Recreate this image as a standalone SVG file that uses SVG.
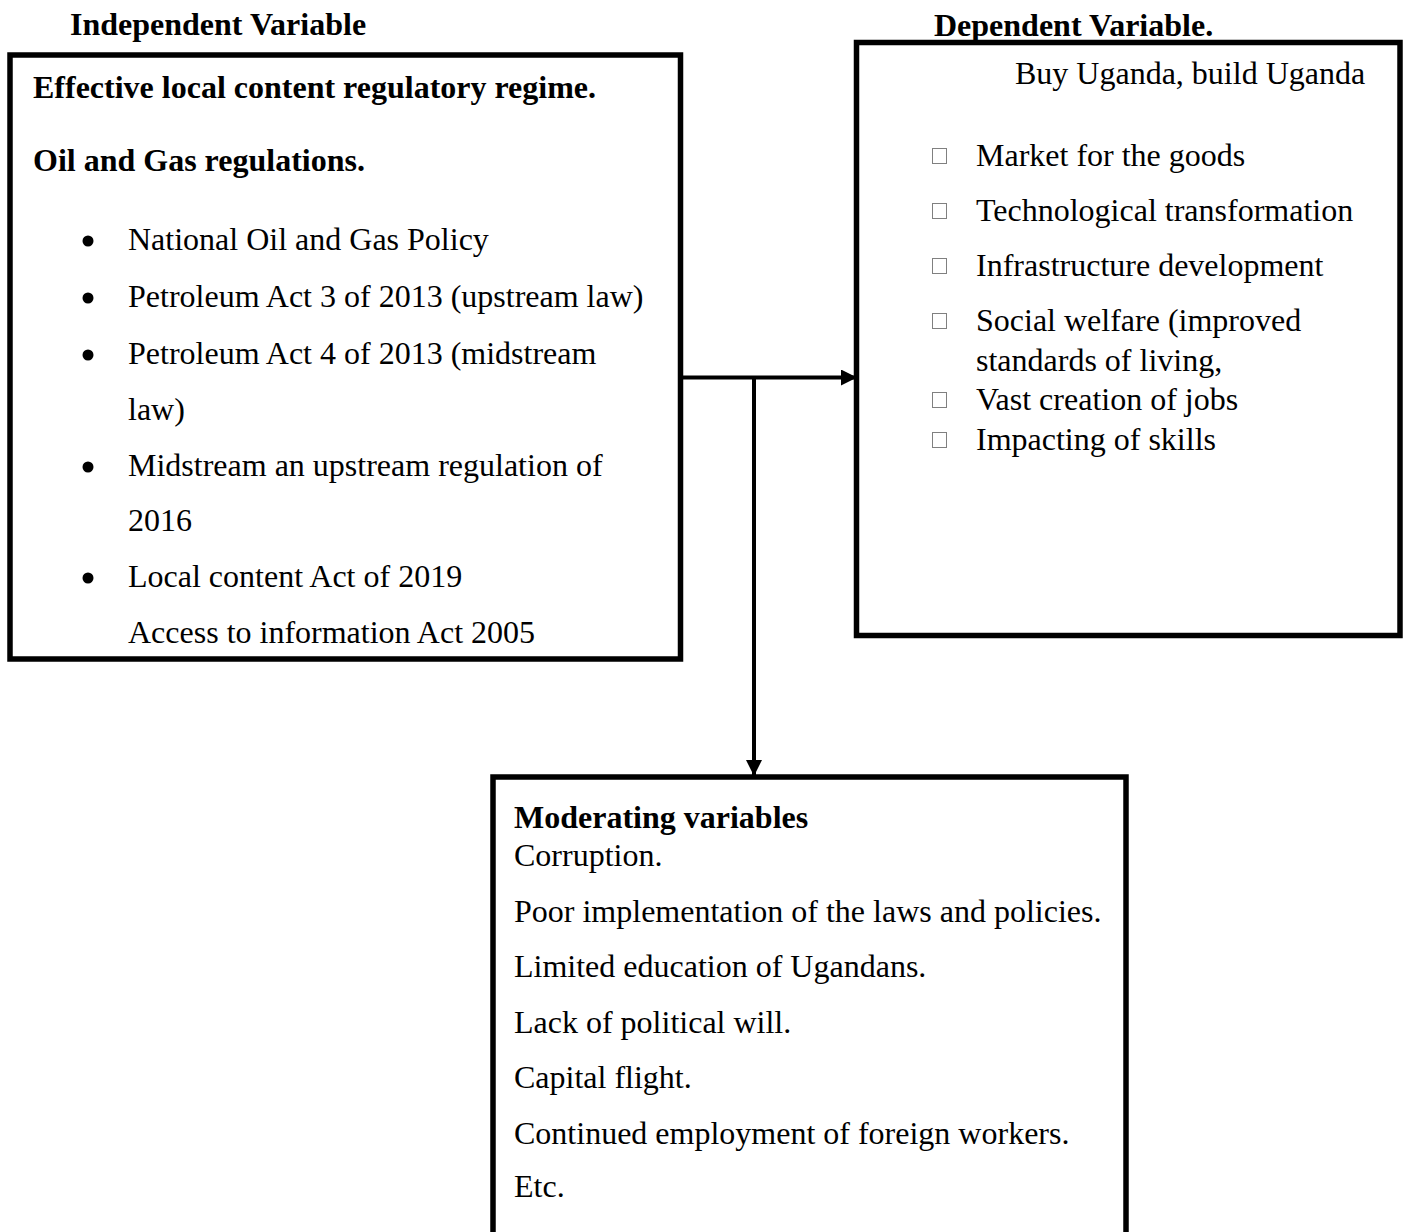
<svg xmlns="http://www.w3.org/2000/svg" width="1407" height="1232" viewBox="0 0 1407 1232">
<defs>
<style>
text{font-family:"Liberation Serif","Times New Roman",serif;font-size:32px;fill:#000}
.b{font-weight:bold}
.box{fill:#fff;stroke:#000;stroke-width:5.5}
.sq{fill:none;stroke:#808080;stroke-width:1}
.ln{stroke:#000;stroke-width:4;fill:none}
</style>
<marker id="ah" viewBox="0 0 10 10" refX="10" refY="5" markerWidth="4" markerHeight="4" orient="auto" markerUnits="strokeWidth">
<path d="M0,0 L10,5 L0,10 z" fill="#000"/>
</marker>
</defs>
<rect width="1407" height="1232" fill="#fff"/>
<text class="b" x="70" y="35">Independent Variable</text>
<text class="b" x="934" y="36">Dependent Variable.</text>
<g id="independent">
<rect class="box" x="10" y="55" width="670.5" height="604"/>
<text class="b" x="33" y="98">Effective local content regulatory regime.</text>
<text class="b" x="33" y="171">Oil and Gas regulations.</text>
<circle cx="88" cy="241" r="5.5"/>
<text x="128" y="250">National Oil and Gas Policy</text>
<circle cx="88" cy="298" r="5.5"/>
<text x="128" y="307">Petroleum Act 3 of 2013 (upstream law)</text>
<circle cx="88" cy="355" r="5.5"/>
<text x="128" y="364">Petroleum Act 4 of 2013 (midstream</text>
<text x="128" y="420">law)</text>
<circle cx="88" cy="467" r="5.5"/>
<text x="128" y="476">Midstream an upstream regulation of</text>
<text x="128" y="531">2016</text>
<circle cx="88" cy="578" r="5.5"/>
<text x="128" y="587">Local content Act of 2019</text>
<text x="128" y="643">Access to information Act 2005</text>
</g>
<g id="dependent">
<rect class="box" x="856.5" y="42.5" width="543.5" height="593"/>
<text x="1015" y="84">Buy Uganda, build Uganda</text>
<rect class="sq" x="932.5" y="148.5" width="14" height="15"/>
<text x="976" y="166">Market for the goods</text>
<rect class="sq" x="932.5" y="203.5" width="14" height="15"/>
<text x="976" y="221">Technological transformation</text>
<rect class="sq" x="932.5" y="258.5" width="14" height="15"/>
<text x="976" y="276">Infrastructure development</text>
<rect class="sq" x="932.5" y="313.5" width="14" height="15"/>
<text x="976" y="331">Social welfare (improved</text>
<text x="976" y="371">standards of living,</text>
<rect class="sq" x="932.5" y="392.5" width="14" height="15"/>
<text x="976" y="410">Vast creation of jobs</text>
<rect class="sq" x="932.5" y="432.5" width="14" height="15"/>
<text x="976" y="450">Impacting of skills</text>
</g>
<g id="moderating">
<rect class="box" x="493" y="777" width="633" height="480"/>
<text class="b" x="514" y="828">Moderating variables</text>
<text x="514" y="866">Corruption.</text>
<text x="514" y="922">Poor implementation of the laws and policies.</text>
<text x="514" y="977">Limited education of Ugandans.</text>
<text x="514" y="1033">Lack of political will.</text>
<text x="514" y="1088">Capital flight.</text>
<text x="514" y="1144">Continued employment of foreign workers.</text>
<text x="514" y="1197">Etc.</text>
</g>
<g id="connectors">
<path class="ln" d="M682,377.5 H857" marker-end="url(#ah)"/>
<path class="ln" d="M754,377.5 V776" marker-end="url(#ah)"/>
</g>
</svg>
